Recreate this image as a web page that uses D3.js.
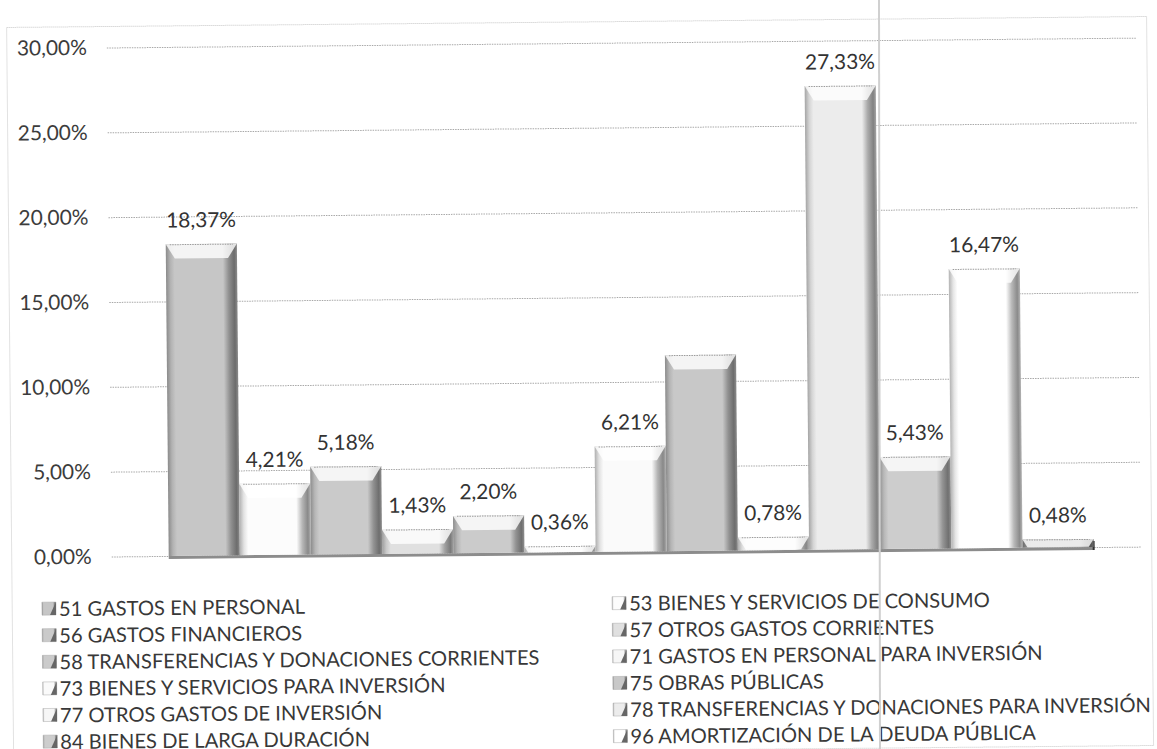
<!DOCTYPE html>
<html>
<head>
<meta charset="utf-8">
<script src="https://cdn.jsdelivr.net/npm/d3@7"></script>
<style>
  html, body { margin: 0; padding: 0; background: #fff; }
  svg { display: block; }
  text { font-family: Lato, "Open Sans", sans-serif; }
</style>
</head>
<body>
<svg id="chart" width="1157" height="749"></svg>
<script>
// ---- data ----
const categories = [
  "51 GASTOS EN PERSONAL",
  "53 BIENES Y SERVICIOS DE CONSUMO",
  "56 GASTOS FINANCIEROS",
  "57 OTROS GASTOS CORRIENTES",
  "58 TRANSFERENCIAS Y DONACIONES CORRIENTES",
  "71 GASTOS EN PERSONAL PARA INVERSIÓN",
  "73 BIENES Y SERVICIOS PARA INVERSIÓN",
  "75 OBRAS PÚBLICAS",
  "77 OTROS GASTOS DE INVERSIÓN",
  "78 TRANSFERENCIAS Y DONACIONES PARA INVERSIÓN",
  "84 BIENES DE LARGA DURACIÓN",
  "96 AMORTIZACIÓN DE LA DEUDA PÚBLICA",
  "97 PASIVO CIRCULANTE"
];
const values = [18.37, 4.21, 5.18, 1.43, 2.20, 0.36, 6.21, 11.55, 0.78, 27.33, 5.43, 16.47, 0.48];
const hiddenLabels = ["75 OBRAS PÚBLICAS"];
const legendEntries = categories.slice(0, 12); // 13th entry falls below the cropped picture
const yTicks = [0, 5, 10, 15, 20, 25, 30];
const yDomain = [0, 30];

// ---- styles ----
const barColors = ["#c6c6c6", "#fcfcfc", "#cacaca", "#e0e0e0", "#cbcbcb", "#f6f6f6", "#fafafa",
                   "#c8c8c8", "#f6f6f6", "#ececec", "#cdcdcd", "#ffffff", "#9a9a9a"];
const FONT = "Lato, sans-serif";

const locale = d3.formatLocale({decimal: ",", thousands: ".", grouping: [3], currency: ["", ""]});
const pct = v => locale.format(".2f")(v) + "%";

const svg = d3.select("#chart");

// text measuring helper
const probe = svg.append("text").attr("font-family", FONT).attr("font-size", 100).attr("x", -5000).attr("y", -5000);
const measure = s => { probe.text(s); return probe.node().getComputedTextLength() / 100; };

const numFont = Math.max(18, Math.min(23, 70 / measure(pct(30))));
const kRow3 = measure(categories[4]);
const kHead = measure(categories[0].slice(0, 4));
const kRight = measure(categories[9]);
const legFont = Math.max(17, Math.min(22, 437 / (kRow3 - kHead)));
const leftText = 100 - kHead * legFont;
const rightText = 1148 - kRight * legFont;
probe.remove();

const root = svg.append("g").attr("transform", "rotate(-0.55 578 375)");

const x = d3.scaleBand().domain(categories).range([167, 1092]).padding(0);
const y = d3.scaleLinear().domain(yDomain).range([552, 43]);

// outer chart frame (dotted)
root.append("rect")
  .attr("x", 10).attr("y", 22).attr("width", 1140).attr("height", 729)
  .attr("fill", "none").attr("stroke", "#c4c4c4").attr("stroke-width", 1)
  .attr("stroke-dasharray", "1,1");

// gridlines
const grid = root.append("g").attr("transform", "translate(110,0)")
  .call(d3.axisLeft(y).tickValues(yTicks).tickSize(-1030).tickFormat(""));
grid.select(".domain").remove();
grid.selectAll(".tick line").attr("stroke", "#a8a8a8").attr("stroke-dasharray", "1.5,1").attr("stroke-width", 1);

// y axis labels
const yAxis = root.append("g").attr("transform", "translate(90,0)")
  .call(d3.axisLeft(y).tickValues(yTicks).tickSize(0).tickPadding(0).tickFormat(pct));
yAxis.select(".domain").remove();
yAxis.selectAll(".tick text")
  .attr("font-size", numFont).attr("fill", "#3c3c3c").attr("font-family", FONT);

// gradients
const defs = svg.append("defs");
categories.forEach((c, i) => {
  const base = d3.color(barColors[i]);
  const g = defs.append("linearGradient").attr("id", "bg" + i)
    .attr("x1", "0%").attr("x2", "100%").attr("y1", "0%").attr("y2", "0%");
  const stops = [
    [0, base.darker(1.0)], [0.06, base.darker(0.3)], [0.12, base], [0.8, base],
    [0.88, base.darker(0.9)], [0.96, base.darker(1.7)], [1, base.darker(1.0)]
  ];
  stops.forEach(s => g.append("stop").attr("offset", s[0]).attr("stop-color", s[1].formatHex()));
});

// floor
root.append("rect")
  .attr("x", x.range()[0]).attr("y", y(0)).attr("width", x.range()[1] - x.range()[0]).attr("height", 3)
  .attr("fill", "#8c8c8c");
root.append("line")
  .attr("x1", x.range()[1]).attr("x2", x.range()[1]).attr("y1", y(0) - 6).attr("y2", y(0) + 3)
  .attr("stroke", "#333").attr("stroke-width", 2);

// bars
const bars = root.append("g").selectAll("g.bar").data(categories).join("g").attr("class", "bar");
bars.append("rect")
  .attr("x", d => x(d)).attr("width", x.bandwidth())
  .attr("y", (d, i) => y(values[i])).attr("height", (d, i) => y(0) - y(values[i]))
  .attr("fill", (d, i) => `url(#bg${i})`);
// top bevel
bars.append("path")
  .attr("d", (d, i) => {
    const x0 = x(d), x1 = x(d) + x.bandwidth(), t = y(values[i]);
    const h = y(0) - t;
    const b = Math.min(9, h * 0.6);
    return `M${x0},${t}L${x1},${t}L${x1 - b},${t + b * 1.6}L${x0 + b},${t + b * 1.6}Z`;
  })
  .attr("fill", "#ffffff").attr("opacity", 0.8);
bars.append("line")
  .attr("x1", d => x(d) + 4).attr("x2", d => x(d) + x.bandwidth() - 4)
  .attr("y1", (d, i) => y(values[i]) + 0.5).attr("y2", (d, i) => y(values[i]) + 0.5)
  .attr("stroke", "#9a9a9a").attr("stroke-dasharray", "1.5,1");

// data labels
root.append("g").selectAll("text")
  .data(categories.filter(c => !hiddenLabels.includes(c)))
  .join("text")
  .attr("x", d => x(d) + x.bandwidth() / 2)
  .attr("y", d => y(values[categories.indexOf(d)]) - 24)
  .attr("dy", "0.35em")
  .attr("text-anchor", "middle")
  .attr("font-size", numFont).attr("fill", "#333")
  .text(d => pct(values[categories.indexOf(d)]));

// legend
const legendCols = [leftText, rightText];
const legend = root.append("g").selectAll("g.li").data(legendEntries).join("g")
  .attr("class", "li")
  .attr("transform", (d, i) => `translate(${legendCols[i % 2]},${604 + Math.floor(i / 2) * 26.6})`);
legend.append("rect")
  .attr("x", -17).attr("y", -7).attr("width", 14).attr("height", 13)
  .attr("fill", (d, i) => `url(#bg${i})`).attr("stroke", "#aaa").attr("stroke-width", 0.5);
legend.append("path")
  .attr("d", "M-9,6L-3,-7L-3,6Z").attr("fill", "#666");
legend.append("text")
  .attr("x", 0).attr("y", 0).attr("dy", "0.35em")
  .attr("font-size", legFont).attr("fill", "#383838")
  .text(d => d);

// scan line artifact
svg.append("line")
  .attr("x1", 879).attr("x2", 880).attr("y1", 0).attr("y2", 749)
  .attr("stroke", "#d0d0d0").attr("stroke-width", 2);
</script>
</body>
</html>
